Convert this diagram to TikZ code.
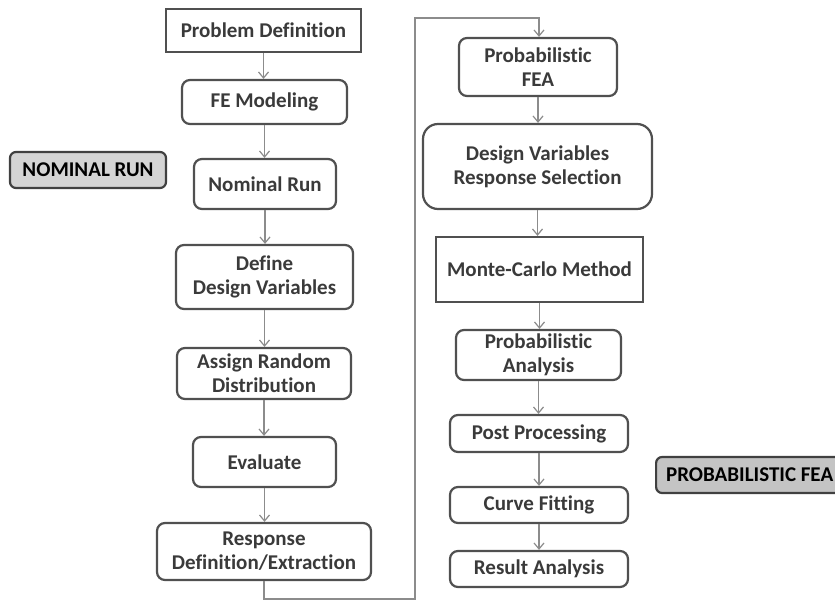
\documentclass[tikz,border=0pt]{standalone}
\usepackage{fontspec}
\setmainfont{Carlito}[Ligatures=NoCommon]
\usetikzlibrary{arrows.meta}
\definecolor{boxline}{HTML}{505050}
\definecolor{txt}{HTML}{3A3A3A}
\definecolor{arr}{HTML}{8C8C8C}
\definecolor{lblfill}{HTML}{D4D4D4}
\definecolor{lblfillb}{HTML}{C4C4C4}
\tikzset{
  base/.style={draw=boxline, line width=2.2pt, text=txt, align=center, inner sep=0pt,
    font=\fontsize{21}{24}\selectfont\bfseries},
  rbox/.style={base, rounded corners=8pt},
  sbox/.style={base},
  lbl/.style={base, rounded corners=6pt, text=black, draw=black!75},
  conn/.style={draw=arr, line width=1.2pt, -{Straight Barb[length=6pt,width=10pt]}},
}
\begin{document}
\begin{tikzpicture}[x=1pt,y=-1pt]
\clip (0,0) rectangle (835,601);
\fill[white] (0,0) rectangle (835,601);
% left column
\node[sbox, minimum width=195pt, minimum height=43pt] (pd) at (263.5,30.5) {Problem Definition};
\node[rbox, minimum width=165pt, minimum height=44pt] (fem) at (264.5,102) {FE Modeling};
\node[rbox, minimum width=142pt, minimum height=50pt] (nr) at (265,184) {Nominal Run};
\node[rbox, minimum width=177pt, minimum height=64pt] (ddv) at (264.5,277) {Define\\Design Variables};
\node[rbox, minimum width=174pt, minimum height=51pt] (ard) at (264,373.5) {Assign Random\\Distribution};
\node[rbox, minimum width=143pt, minimum height=50pt] (ev) at (264.5,462) {Evaluate};
\node[rbox, minimum width=214pt, minimum height=57pt] (rde) at (264,551.5) {Response\\Definition/Extraction};
\node[lbl, fill=lblfill, minimum width=156pt, minimum height=36pt] (nomlbl) at (88,170) {NOMINAL RUN};
% right column
\node[rbox, minimum width=158pt, minimum height=58pt] (pfea) at (538,67) {Probabilistic\\FEA};
\node[rbox, rounded corners=15pt, minimum width=229pt, minimum height=85pt] (dvrs) at (537.5,166.5) {Design Variables\\Response Selection};
\node[sbox, minimum width=207pt, minimum height=65pt] (mc) at (539.5,269.5) {Monte-Carlo Method};
\node[rbox, minimum width=165pt, minimum height=50pt] (pa) at (538.5,355) {Probabilistic\\Analysis};
\node[rbox, minimum width=178pt, minimum height=37pt] (pp) at (539,433.5) {Post Processing};
\node[rbox, minimum width=178pt, minimum height=36pt] (cf) at (539,505) {Curve Fitting};
\node[rbox, minimum width=178pt, minimum height=36pt] (ra) at (539,569) {Result Analysis};
\node[lbl, fill=lblfillb, anchor=west, inner xsep=10pt, minimum height=36pt] (problbl) at (655,475) {PROBABILISTIC FEA};
% connectors left
\draw[conn] (pd.south) -- (pd.south |- fem.north);
\draw[conn] (fem.south) -- (fem.south |- nr.north);
\draw[conn] (nr.south) -- (nr.south |- ddv.north);
\draw[conn] (ddv.south) -- (ddv.south |- ard.north);
\draw[conn] (ard.south) -- (ard.south |- ev.north);
\draw[conn] (ev.south) -- (ev.south |- rde.north);
% loop connector
\coordinate (c1) at (264,599);
\coordinate (c2) at (415,599);
\coordinate (c3) at (415,18);
\coordinate (c4) at (539,18);
\draw[conn] (rde.south) -- (c1) -- (c2) -- (c3) -- (c4) -- (c4 |- pfea.north);
% connectors right
\draw[conn] (pfea.south) -- (pfea.south |- dvrs.north);
\draw[conn] (dvrs.south) -- (dvrs.south |- mc.north);
\draw[conn] (mc.south) -- (mc.south |- pa.north);
\draw[conn] (pa.south) -- (pa.south |- pp.north);
\draw[conn] (pp.south) -- (pp.south |- cf.north);
\draw[conn] (cf.south) -- (cf.south |- ra.north);
\end{tikzpicture}
\end{document}
